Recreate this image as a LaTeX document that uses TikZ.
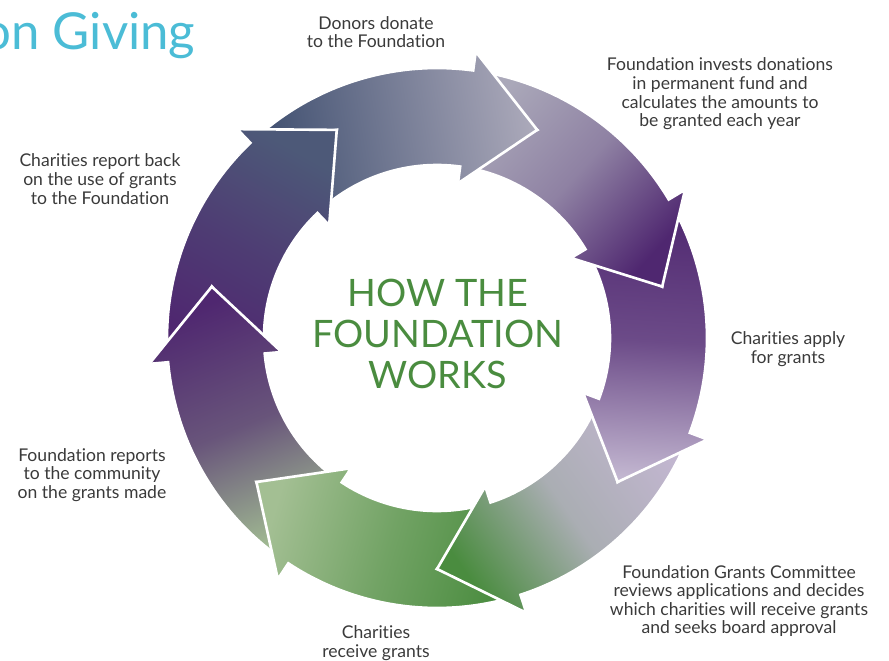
\documentclass[tikz,border=0pt]{standalone}
\usepackage{fontspec}
\setmainfont{Lato}[Ligatures=NoCommon]
\usetikzlibrary{positioning}

\definecolor{slate}{HTML}{3E4E6F}
\definecolor{mist}{HTML}{AAA8B9}
\definecolor{plum}{HTML}{4F2770}
\definecolor{lilac}{HTML}{C2B6D0}
\definecolor{leaf}{HTML}{4A8C3F}
\definecolor{sage}{HTML}{A3BF93}
\definecolor{dusk}{HTML}{4D5978}
\definecolor{inkgray}{HTML}{3A3A3A}
\definecolor{skyblue}{HTML}{4BBCD6}

% one arrow of the ring: #1 = place (0 = top), #2/#3/#4 = tail/middle/head colour
\newcommand{\ringstage}[4]{%
  \pgfmathsetmacro\tip{64.3-51.43*#1}%
  \pgfmathsetmacro\turn{\tip-145}%
  \path[stage, bottom color=#2, top color=#4, middle color=#3, shading angle=\turn]
    (\tip+69.4:270) arc[start angle=\tip+69.4, end angle=\tip+18, radius=270]
    -- (\tip+18:289) -- (\tip:231) -- (\tip+18:156) -- (\tip+18:173)
    arc[start angle=\tip+18, end angle=\tip+69.4, radius=173]
    -- (\tip+51.4:231) -- cycle;}

\begin{document}
\begin{tikzpicture}[x=0.02cm,y=0.02cm,
    stage/.style={draw=white,line width=1.5pt},
    label/.style={align=center,inner sep=0pt,text=inkgray,
      font=\fontsize{10}{10.6}\selectfont},
    hub/.style={align=center,inner sep=0pt,text=leaf,
      font=\fontsize{21.5}{23.4}\selectfont}]
  \useasboundingbox (0,0) rectangle (889,660);

  \node[anchor=base west,inner sep=0pt,text=skyblue,
    font=\fontsize{29}{30}\selectfont] (title) at (-18,610) {on Giving};

  \begin{scope}[shift={(437,322)}]
    \ringstage{6}{plum}{plum!55!dusk}{dusk}
    \ringstage{5}{sage}{plum!70!sage}{plum}
    \ringstage{4}{leaf}{leaf!55!sage}{sage}
    \ringstage{3}{lilac}{lilac!80!leaf}{leaf}
    \ringstage{2}{plum}{plum!75!lilac}{lilac}
    \ringstage{1}{mist}{mist!70!plum}{plum}
    \ringstage{0}{slate}{slate!50!mist}{mist}
    % last head goes over the first tail
    \begin{scope}
      \clip (0,0) -- (110:340) arc[start angle=110, end angle=137, radius=340] -- cycle;
      \ringstage{6}{plum}{plum!55!dusk}{dusk}
    \end{scope}
    \node[hub] (hub) at (1,4) {HOW THE\\FOUNDATION\\WORKS};
  \end{scope}

  \node[label] (donate) at (376,628) {Donors donate\\to the Foundation};
  \node[label] (invest) at (720,566) {Foundation invests donations\\in permanent fund and\\calculates the amounts to\\be granted each year};
  \node[label] (apply) at (788,311) {Charities apply\\for grants};
  \node[label] (review) at (739,59) {Foundation Grants Committee\\reviews applications and decides\\which charities will receive grants\\and seeks board approval};
  \node[label] (receive) at (376,17) {Charities\\receive grants};
  \node[label] (report) at (92,185) {Foundation reports\\to the community\\on the grants made};
  \node[label] (feedback) at (100,481) {Charities report back\\on the use of grants\\to the Foundation};
\end{tikzpicture}
\end{document}
